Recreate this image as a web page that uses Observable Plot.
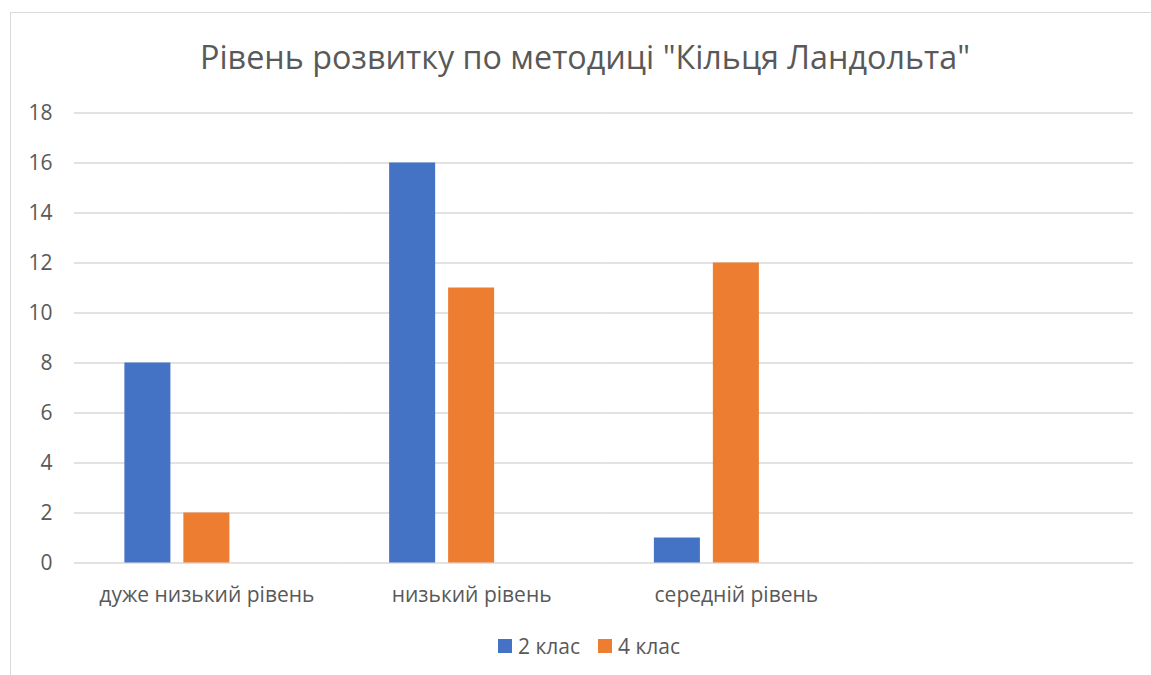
<!DOCTYPE html>
<html>
<head>
<meta charset="utf-8">
<script src="https://cdn.jsdelivr.net/npm/d3@7"></script>
<script src="https://cdn.jsdelivr.net/npm/@observablehq/plot@0.6"></script>
<style>
  html, body { margin: 0; padding: 0; background: #fff; }
  body { position: relative; width: 1151px; height: 675px; overflow: hidden; font-family: "Open Sans", sans-serif; color: #595959; }
  #frame { position: absolute; left: 10px; top: 12px; width: 1158px; height: 700px; border: 1px solid #d9d9d9; box-sizing: border-box; }
  #title { position: absolute; left: 6px; width: 1158px; top: 34px; text-align: center; font-size: 32.3px; color: #595959; white-space: nowrap; }
  #chart { position: absolute; left: 0; top: 0; }
  #chart svg text { font-size: 21px !important; }
  #legend { position: absolute; left: 10px; width: 1158px; top: 632px; display: flex; justify-content: center; gap: 18px; font-size: 21px; line-height: 28px; color: #595959; }
  .item { display: flex; align-items: center; gap: 6px; }
  .sw { width: 14px; height: 14px; display: inline-block; }
</style>
</head>
<body>
<div id="frame"></div>
<div id="title"></div>
<div id="chart"></div>
<div id="legend"></div>
<script>
const titleText = "Рівень розвитку по методиці \"Кільця Ландольта\"";
const categories = ["дуже низький рівень", "низький рівень", "середній рівень", ""];
const seriesNames = ["2 клас", "4 клас"];
const seriesSlots = ["2 клас", "4 клас", "(порожньо)"];
const values2 = [8, 16, 1];
const values4 = [2, 11, 12];
const colors = ["#4472C4", "#ED7D31"];
const yTicks = [0, 2, 4, 6, 8, 10, 12, 14, 16, 18];

const seriesValues = [values2, values4];
const table = [];
categories.forEach((c, i) => {
  seriesNames.forEach((s, j) => {
    const v = seriesValues[j][i];
    table.push({category: c, series: s, value: v === undefined ? null : v});
  });
});

document.getElementById("title").textContent = titleText;

const plot = Plot.plot({
  width: 1151,
  height: 620,
  marginLeft: 74,
  marginRight: 18,
  marginTop: 112.5,
  marginBottom: 57.5,
  style: {fontFamily: "Open Sans, sans-serif", fontSize: "21px", color: "#595959", background: "transparent"},
  fx: {domain: categories, padding: 0, round: false, label: null},
  x: {domain: seriesSlots, paddingInner: 0.22, paddingOuter: 0.854, round: false, axis: null},
  y: {domain: [0, 18], label: null},
  color: {domain: seriesNames, range: colors},
  marks: [
    Plot.gridY(yTicks, {stroke: "#d9d9d9", strokeOpacity: 1, strokeWidth: 1.3}),
    Plot.axisY(yTicks, {tickSize: 0, tickPadding: 22, fontSize: 21, label: null, fill: "#595959"}),
    Plot.axisFx({anchor: "bottom", tickSize: 0, tickPadding: 24, fontSize: 21, label: null, fill: "#595959"}),
    Plot.barY(table, {fx: "category", x: "series", y: "value", fill: "series"})
  ]
});
document.getElementById("chart").appendChild(plot);

const legend = document.getElementById("legend");
seriesNames.forEach((s, i) => {
  const item = document.createElement("div");
  item.className = "item";
  const sw = document.createElement("span");
  sw.className = "sw";
  sw.style.background = colors[i];
  const t = document.createElement("span");
  t.textContent = s;
  item.appendChild(sw);
  item.appendChild(t);
  legend.appendChild(item);
});
</script>
</body>
</html>
